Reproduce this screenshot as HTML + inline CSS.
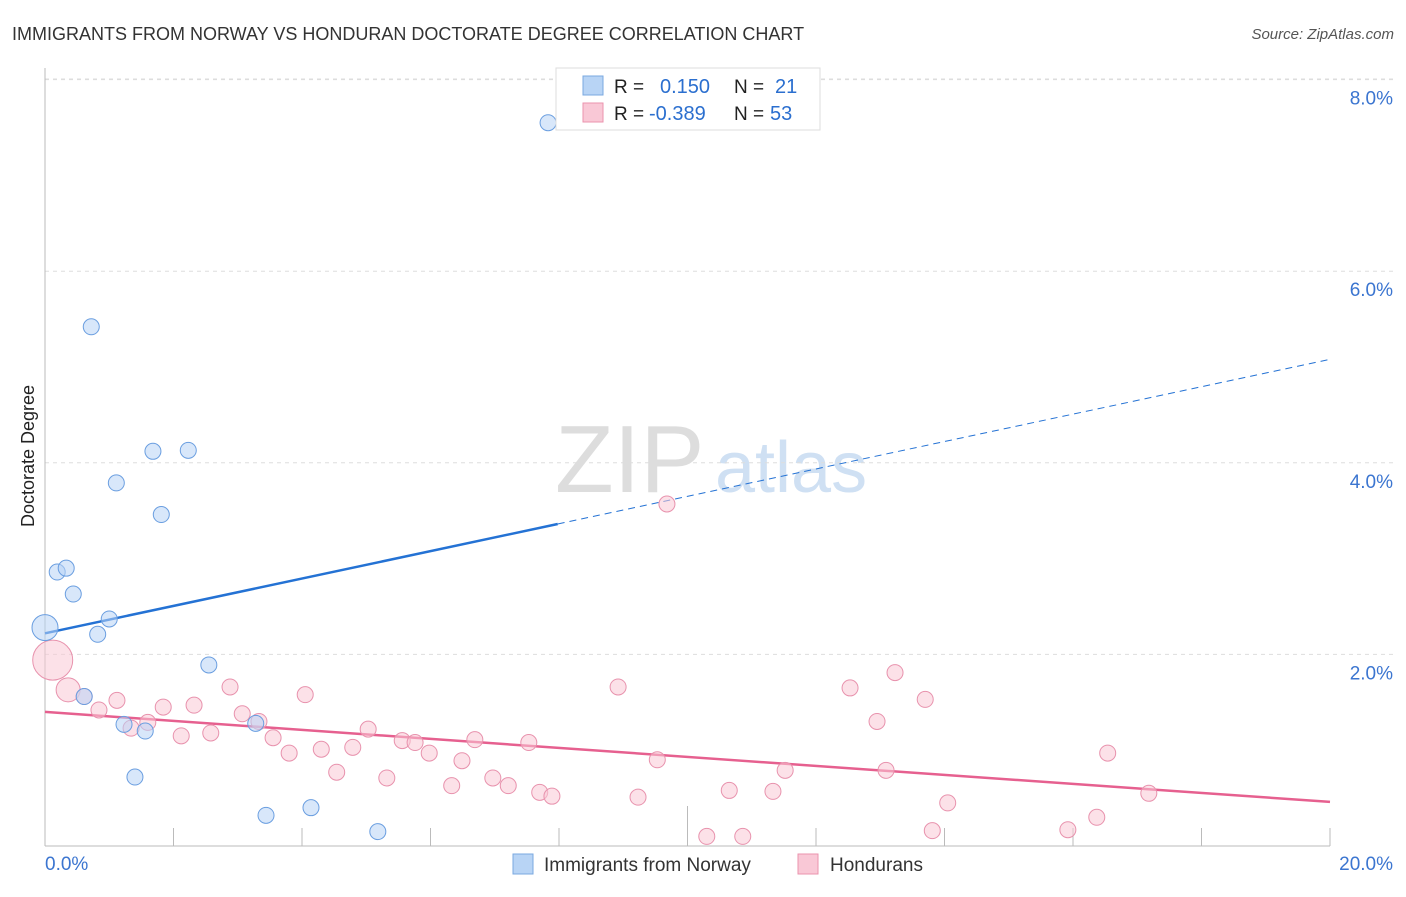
<!DOCTYPE html>
<html><head><meta charset="utf-8"><style>
body{margin:0;background:#fff;font-family:"Liberation Sans",sans-serif}
svg text{font-family:"Liberation Sans",sans-serif}
</style></head><body>
<svg id="c" width="1406" height="892">
<text x="12" y="40" font-size="18" fill="#333">IMMIGRANTS FROM NORWAY VS HONDURAN DOCTORATE DEGREE CORRELATION CHART</text>
<text x="1394" y="39" font-size="15" fill="#555" text-anchor="end" font-style="italic">Source: ZipAtlas.com</text>
<text x="34" y="456" font-size="18" fill="#222" text-anchor="middle" transform="rotate(-90 34 456)">Doctorate Degree</text>
<text x="555" y="492" font-size="96" fill="#ddd" font-family="Liberation Serif">ZIP</text>
<text x="715" y="492" font-size="72" fill="#cfe0f3">atlas</text>
<g id="grid"></g><g id="axes"></g><g id="lines"></g><g id="pts"></g>
<g>
<rect x="556" y="68" width="264" height="62" fill="#fff" stroke="#ddd"/>
<rect x="583" y="76" width="20" height="19" fill="#b8d4f5" stroke="#7aa8e0"/>
<rect x="583" y="103" width="20" height="19" fill="#f9c8d6" stroke="#eb93ae"/>
<text x="614" y="93" font-size="19" fill="#222">R = </text><text x="660" y="93" font-size="20" fill="#2b6fcf">0.150</text>
<text x="734" y="93" font-size="19" fill="#222">N = </text><text x="775" y="93" font-size="20" fill="#2b6fcf">21</text>
<text x="614" y="120" font-size="19" fill="#222">R = </text><text x="649" y="120" font-size="20" fill="#2b6fcf">-0.389</text>
<text x="734" y="120" font-size="19" fill="#222">N = </text><text x="770" y="120" font-size="20" fill="#2b6fcf">53</text>
</g>
<g>
<rect x="513" y="854" width="20" height="20" fill="#b8d4f5" stroke="#7aa8e0"/>
<text x="544" y="871" font-size="19" fill="#333">Immigrants from Norway</text>
<rect x="798" y="854" width="20" height="20" fill="#f9c8d6" stroke="#eb93ae"/>
<text x="830" y="871" font-size="19" fill="#333">Hondurans</text>
</g>
</svg>
<script>
const blueX=[7.83,0.72,1.68,2.23,1.11,1.81,0.19,0.33,0.44,1.00,0.0,0.82,2.55,0.61,1.23,1.56,3.28,1.40,3.44,4.14,5.18];
const blueY=[7.55,5.42,4.12,4.13,3.79,3.46,2.86,2.90,2.63,2.37,2.28,2.21,1.89,1.56,1.27,1.20,1.28,0.72,0.32,0.40,0.15];
const blueR=[8,8,8,8,8,8,8,8,8,8,13,8,8,8,8,8,8,8,8,8,8];
const pinkX=[9.68,0.12,0.36,0.61,1.12,0.84,1.84,2.32,2.88,4.05,1.34,1.60,2.12,2.58,3.07,3.33,3.55,3.80,4.30,4.54,4.79,5.03,5.32,5.56,5.76,5.98,6.33,6.49,6.69,6.97,7.21,7.53,7.70,7.89,8.92,9.23,9.53,10.30,10.65,10.86,11.33,11.52,12.53,12.95,13.09,13.23,13.70,14.05,13.81,15.92,16.37,16.54,17.18];
const pinkY=[3.57,1.94,1.63,1.56,1.52,1.42,1.45,1.47,1.66,1.58,1.23,1.29,1.15,1.18,1.38,1.30,1.13,0.97,1.01,0.77,1.03,1.22,0.71,1.10,1.08,0.97,0.63,0.89,1.11,0.71,0.63,1.08,0.56,0.52,1.66,0.51,0.90,0.10,0.58,0.10,0.57,0.79,1.65,1.30,0.79,1.81,1.53,0.45,0.16,0.17,0.30,0.97,0.55];
const pinkR=[8,20,12,8,8,8,8,8,8,8,8,8,8,8,8,8,8,8,8,8,8,8,8,8,8,8,8,8,8,8,8,8,8,8,8,8,8,8,8,8,8,8,8,8,8,8,8,8,8,8,8,8,8];
const yTicks=[2,4,6,8];
const yTickLabels=["2.0%","4.0%","6.0%","8.0%"];
const xTickVals=[2,4,6,8,10,12,14,16,18,20];
const blueTrend=[2.22,5.08]; const blueSolidEnd=7.98;
const pinkTrend=[1.40,0.46];
const X0=45,X1=1330,Y0=846,YPER=95.8;
const sx=v=>X0+(X1-X0)*v/20, sy=v=>Y0-v*YPER;
const NS="http://www.w3.org/2000/svg";
function mk(tag,parent,attrs){const e=document.createElementNS(NS,tag);for(const k in attrs)e.setAttribute(k,attrs[k]);document.getElementById(parent).appendChild(e);return e;}
yTicks.forEach((t,i)=>{
 const l=mk('line','grid',{x1:X0,x2:1395,y1:sy(t),y2:sy(t),stroke:'#ddd','stroke-dasharray':'4,4'});
 
 
 const tx=mk('text','grid',{x:1393,y:sy(t)+25,'font-size':19,fill:'#3b75d0','text-anchor':'end'});
 tx.textContent=yTickLabels[i];
 
 
});
const ta=mk('line','grid',{x1:X0,x2:1395,y1:79,y2:79,stroke:'#ddd','stroke-dasharray':'4,4'});


const ya=mk('line','axes',{x1:X0,x2:X0,y1:68,y2:Y0,stroke:'#bbb'});


const xa=mk('line','axes',{x1:X0,x2:X1,y1:Y0,y2:Y0,stroke:'#bbb'});


xTickVals.forEach(v=>{
 const t=mk('line','axes',{x1:sx(v),x2:sx(v),y1:Y0,y2:v===10?806:828,stroke:'#bbb'});
 
 
});
const xl0=mk('text','axes',{x:45,y:870,'font-size':19,fill:'#3b75d0'});xl0.textContent="0.0%";


const xl1=mk('text','axes',{x:1393,y:870,'font-size':19,fill:'#3b75d0','text-anchor':'end'});xl1.textContent="20.0%";


function addPts(xs,ys,rs,fill,stroke,name){xs.forEach((x,i)=>{
 const c=mk('circle','pts',{cx:sx(x),cy:sy(ys[i]),r:rs[i],fill:fill,stroke:stroke,'stroke-width':1,'fill-opacity':0.55});
 
 
});}
addPts(pinkX,pinkY,pinkR,'#f9c8d6','#e892ad','point-hondurans');
addPts(blueX,blueY,blueR,'#b8d4f5','#6a9ee0','point-norway');
const bt=v=>blueTrend[0]+(blueTrend[1]-blueTrend[0])*v/20;
const b1=mk('line','lines',{x1:sx(0),y1:sy(bt(0)),x2:sx(blueSolidEnd),y2:sy(bt(blueSolidEnd)),stroke:'#2472d4','stroke-width':2.5});


const b2=mk('line','lines',{x1:sx(blueSolidEnd),y1:sy(bt(blueSolidEnd)),x2:sx(20),y2:sy(bt(20)),stroke:'#2472d4','stroke-width':1,'stroke-dasharray':'7,5'});


const p1=mk('line','lines',{x1:sx(0),y1:sy(pinkTrend[0]),x2:sx(20),y2:sy(pinkTrend[1]),stroke:'#e6608f','stroke-width':2.5});


</script>
</body></html>
